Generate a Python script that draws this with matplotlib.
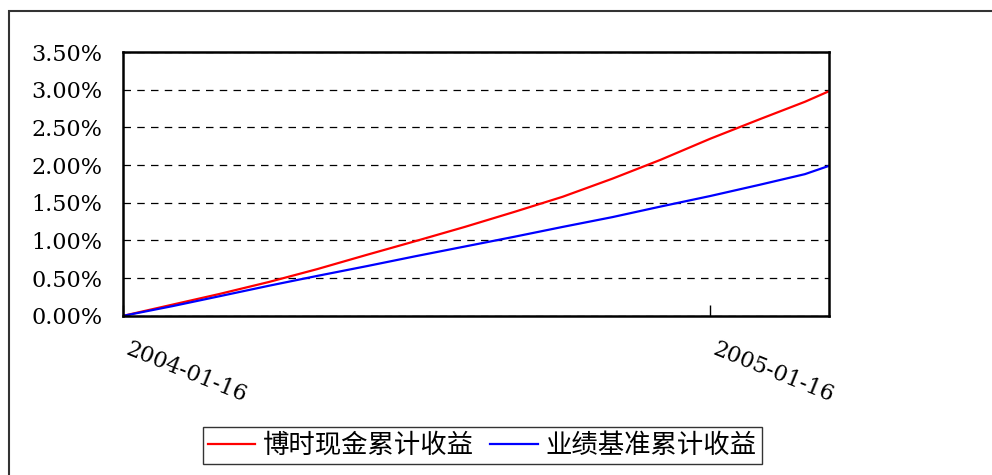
import pandas as pd
import matplotlib.pyplot as plt
import matplotlib.dates as mdates
import matplotlib.transforms as mtransforms
from matplotlib.patches import Rectangle
from matplotlib.ticker import FuncFormatter

# values (percent)
dates = ['2004-01-16', '2004-02-16', '2004-03-16', '2004-04-16', '2004-05-16',
         '2004-06-16', '2004-07-16', '2004-08-16', '2004-09-16', '2004-10-16',
         '2004-11-16', '2004-12-16', '2005-01-16', '2005-02-16', '2005-03-16',
         '2005-03-31']
fund_return = [0.00, 0.15, 0.29, 0.45, 0.62, 0.81, 0.99, 1.18, 1.38, 1.58,
               1.82, 2.07, 2.35, 2.61, 2.84, 2.98]
bench_return = [0.00, 0.13, 0.26, 0.40, 0.53, 0.66, 0.79, 0.92, 1.05, 1.18,
                1.31, 1.45, 1.59, 1.74, 1.88, 1.99]
tick_dates = ['2004-01-16', '2005-01-16']
labels = ['博时现金累计收益', '业绩基准累计收益']

x = pd.to_datetime(dates)

fig = plt.figure(figsize=(9.92, 4.75), dpi=100)
ax = fig.add_axes([0.124, 0.335, 0.7117, 0.5555])

ax.plot(x, fund_return, color='#ff0000', lw=1.6, label=labels[0])
ax.plot(x, bench_return, color='#0000ff', lw=1.6, label=labels[1])

ax.set_ylim(0, 3.5)
ax.set_yticks([0, 0.5, 1, 1.5, 2, 2.5, 3, 3.5])
ax.yaxis.set_major_formatter(FuncFormatter(lambda v, p: '%.2f%%' % v))
ax.set_xlim(x[0], x[-1])
ax.set_xticks(pd.to_datetime(tick_dates))
ax.xaxis.set_major_formatter(mdates.DateFormatter('%Y-%m-%d'))

ax.grid(axis='y', color='black', linestyle=(0, (6, 5)), lw=0.9)
ax.tick_params(axis='y', length=0, pad=15, labelsize=16)
ax.tick_params(axis='x', direction='in', length=8, width=1, pad=16, labelsize=16)
for lab in ax.get_yticklabels():
    lab.set_family('DejaVu Serif')
shift = mtransforms.ScaledTranslation(8 / 100, 0, fig.dpi_scale_trans)
for lab in ax.get_xticklabels():
    lab.set_family('DejaVu Serif')
    lab.set_rotation(-22)
    lab.set_ha('left')
    lab.set_va('top')
    lab.set_rotation_mode('anchor')
    lab.set_transform(lab.get_transform() + shift)
for s in ax.spines.values():
    s.set_linewidth(1.8)
    s.set_color('black')

leg = fig.legend(loc='lower center', bbox_to_anchor=(0.486, -0.005), ncol=2,
                 frameon=True, fancybox=False, handlelength=1.8,
                 columnspacing=0.6, handletextpad=0.3, borderpad=0.2,
                 prop={'family': ['Noto Sans CJK SC', 'DejaVu Sans'], 'size': 19})
leg.get_frame().set_edgecolor('black')
leg.get_frame().set_linewidth(1.0)

# outer frame of the original picture
fig.patches.append(Rectangle((9 / 992, -0.1), 1.2, 1 - 11 / 475 + 0.1,
                             transform=fig.transFigure, fill=False,
                             edgecolor='#333333', lw=1.5, clip_on=False))

fig.savefig('out.png', dpi=100)
